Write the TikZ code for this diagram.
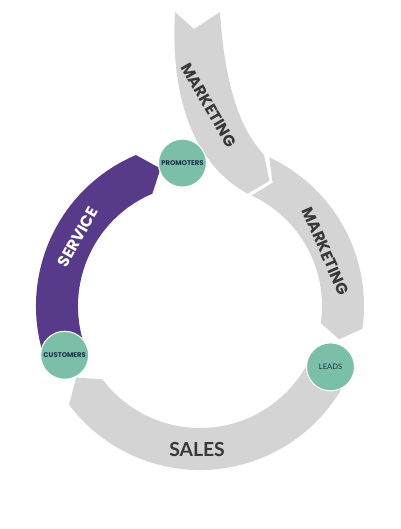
\documentclass[tikz,border=0pt]{standalone}
\usepackage{fontspec}
\setmainfont{Poppins}
\newfontfamily\salesfont{Lato}
\usetikzlibrary{calc}
\definecolor{bandgray}{HTML}{D4D4D4}
\definecolor{servicepurple}{HTML}{583A8B}
\definecolor{stageteal}{HTML}{7BBFA8}
\definecolor{labeldark}{HTML}{383838}
\definecolor{stagetext}{HTML}{1E3048}
\tikzset{
  band/.style={fill=bandgray},
  stage/.style={circle, fill=stageteal, draw=white, line width=0.6pt, minimum size=0.96cm,
    inner sep=0pt, text=stagetext, font=\fontsize{3.9}{4}\selectfont\bfseries},
  bandtext/.style={text=labeldark, font=\fontsize{9}{11}\selectfont\bfseries}
}

\begin{document}
\begin{tikzpicture}[x=0.02cm, y=0.02cm]
		\useasboundingbox (0,0) rectangle (401,-529);
		\coordinate (C) at (200,-306);
		
		%%%%% BANDS %%%%%
		% marketing, upper arrow
		\fill[band] (175,-12) -- (194,-29) -- (220,-12)
			.. controls (224,-70) and (234,-122) .. ($(C)+(67:164)$)
			-- ($(C)+(61:143)$) -- ($(C)+(67:122)$)
			.. controls (195,-165) and (170,-100) .. (175,-12) -- cycle;
		
		% marketing, lower arrow
		\fill[band] ($(C)+(65:164)$) arc[start angle=65, end angle=-8, radius=164]
			-- ($(C)+(-13.5:143)$) -- ($(C)+(-8:122)$)
			arc[start angle=-8, end angle=65, radius=122] -- ($(C)+(59.5:143)$) -- cycle;
		
		% sales
		\fill[band] ($(C)+(338:164)$) arc[start angle=338, end angle=217, radius=164]
			-- ($(C)+(210:143)$) -- ($(C)+(217:122)$)
			arc[start angle=217, end angle=338, radius=122] -- cycle;
		
		% service
		\fill[servicepurple] ($(C)+(202:164)$) arc[start angle=202, end angle=113, radius=164]
			-- ($(C)+(106:143)$) -- ($(C)+(113:122)$)
			arc[start angle=113, end angle=202, radius=122] -- cycle;
		
		%%%%% LABELS %%%%%
		\node[bandtext, rotate=-60] (mkttop) at (209,-105) {MARKETING};
		\node[bandtext, rotate=-66.5] (mktlow) at ($(C)+(23.5:137)$) {MARKETING};
		\node[bandtext, text=white, rotate=60.5] (service) at ($(C)+(150.5:140)$) {SERVICE};
		\node[bandtext, font=\salesfont\fontsize{11}{13}\selectfont\bfseries] (sales) at (197,-450) {SALES};
		
		%%%%% STAGES %%%%%
		\node[stage] (promoters) at ($(C)+(97:144)$) {PROMOTERS};
		\node[stage] (customers) at ($(C)+(200:144)$) {CUSTOMERS};
		\node[stage, font=\salesfont\fontsize{4.3}{5}\selectfont] (leads) at ($(C)+(335:144)$) {LEADS};
	\end{tikzpicture}
\end{document}
